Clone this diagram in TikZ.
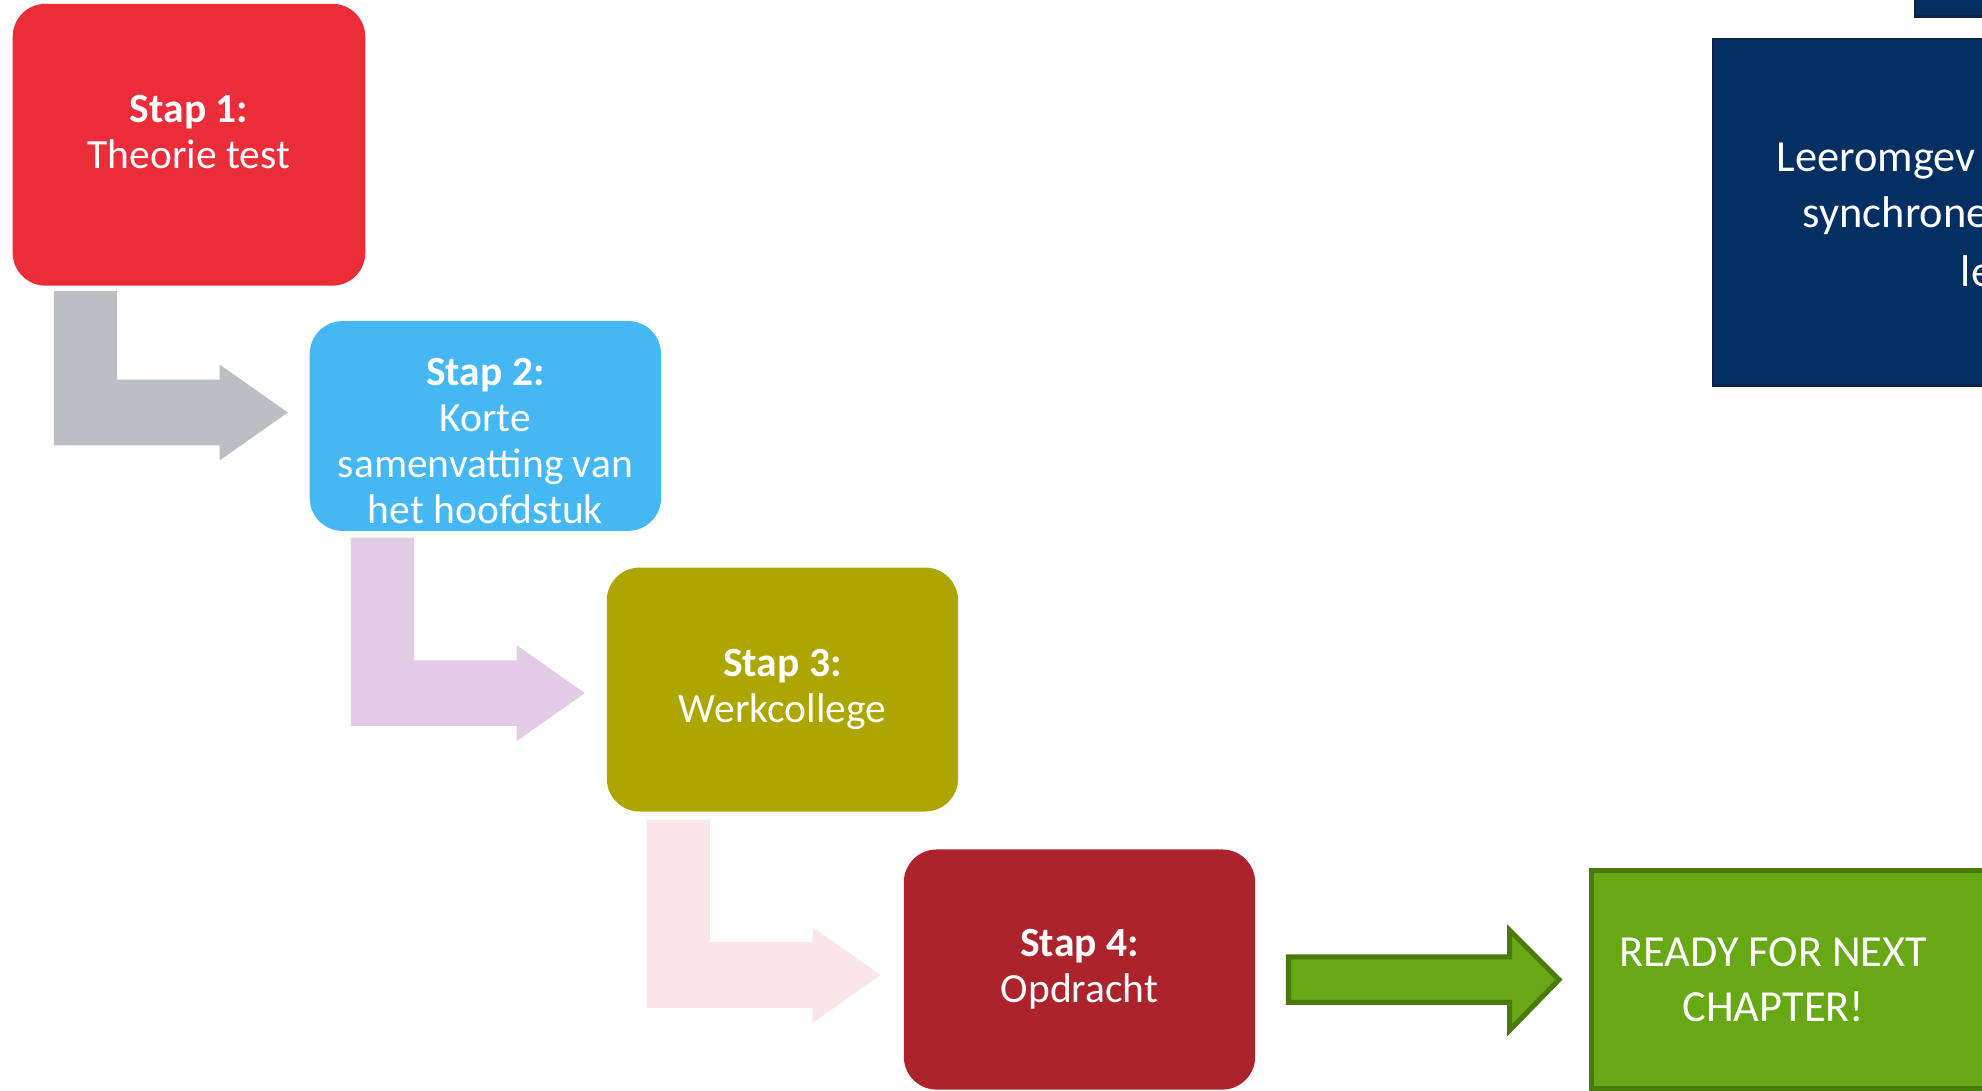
\documentclass[tikz,border=0pt]{standalone}
\usepackage{fontspec}
\setmainfont{Carlito}
\usetikzlibrary{positioning,calc}

\definecolor{stapred}{HTML}{EB2D3A}
\definecolor{stapblue}{HTML}{45B8F3}
\definecolor{stapolive}{HTML}{ADA600}
\definecolor{stapdarkred}{HTML}{AD232C}
\definecolor{arrgray}{HTML}{BCBEC5}
\definecolor{arrlilac}{HTML}{E3CAE7}
\definecolor{arrpink}{HTML}{FAE6E6}
\definecolor{readygreen}{HTML}{67A814}
\definecolor{readyline}{HTML}{4A7B0A}
\definecolor{navyfill}{HTML}{032F62}
\definecolor{navyline}{HTML}{0D2445}

% bent block arrow: colour, top left corner, length of the vertical part
\newcommand{\bentarrow}[3]{%
  \fill[#1] #2 -- ++(50,0) -- ++(0,#3-52) -- ++(81,0) -- ++(0,-12)
    -- ++(54,38) -- ++(-54,38) -- ++(0,-12) -- ++(-131,0) -- cycle;}

\tikzset{
  stapbox/.style={rounded corners=0.52cm, inner sep=0pt, align=center,
    text=white, font=\fontsize{18.7}{20.8}\selectfont},
  bigtext/.style={text=white, inner sep=0pt, font=\fontsize{20}{24.4}\selectfont},
}

\begin{document}
\begin{tikzpicture}[x=0.02cm,y=-0.02cm]
  \useasboundingbox (0,0) rectangle (1568,863);

  % the four steps
  \node[stapbox, fill=stapred, minimum width=5.58cm, minimum height=4.46cm] (s1) at (149.5,114.5) {};
  \node[stapbox] (t1) at ($(s1)+(0,-10)$) {\textbf{Stap 1:}\\Theorie test};
  \node[stapbox, fill=stapblue, minimum width=5.56cm, minimum height=3.32cm] (s2) at (384,337) {};
  \node[stapbox] (t2) at ($(s2)+(0,12)$) {\textbf{Stap 2:}\\Korte\\samenvatting van\\het hoofdstuk};
  \node[stapbox, fill=stapolive, minimum width=5.56cm, minimum height=3.86cm] (s3) at (619,545.5) {\textbf{Stap 3:}\\Werkcollege};
  \node[stapbox, fill=stapdarkred, minimum width=5.56cm, minimum height=3.80cm] (s4) at (854,767) {\textbf{Stap 4:}\\Opdracht};

  % arrows between the steps
  \bentarrow{arrgray}{($(s1.south west)+(33,4)$)}{122}
  \bentarrow{arrlilac}{($(s2.south west)+(33,5)$)}{149}
  \bentarrow{arrpink}{($(s3.south west)+(32,6)$)}{149}

  % last step
  \draw[readyline, fill=readygreen, line width=0.08cm] (1259,689) rectangle (1620,861);
  \node[bigtext, align=center] (ready) at (1403,775) {READY FOR NEXT\\CHAPTER!};
  \draw[readyline, fill=readygreen, line width=0.08cm, miter limit=4]
    ($(s4.east)+(26,-10)$) -- ++(175,0) -- ++(0,-21) -- ++(39,39)
    -- ++(-39,40) -- ++(0,-22) -- ++(-175,0) -- cycle;

  % boxes at the top right
  \draw[navyline, fill=navyfill, line width=0.04cm] (1515,-30) rectangle (1620,13);
  \draw[navyline, fill=navyfill, line width=0.04cm] (1355,31) rectangle (1620,305);
  \node[bigtext, anchor=base west] (l1) at (1405,136) {Leeromgev};
  \node[bigtext, anchor=base west] (l2) at (1426,180) {synchrone};
  \node[bigtext, anchor=base west] (l3) at (1551,227) {le};
\end{tikzpicture}
\end{document}
